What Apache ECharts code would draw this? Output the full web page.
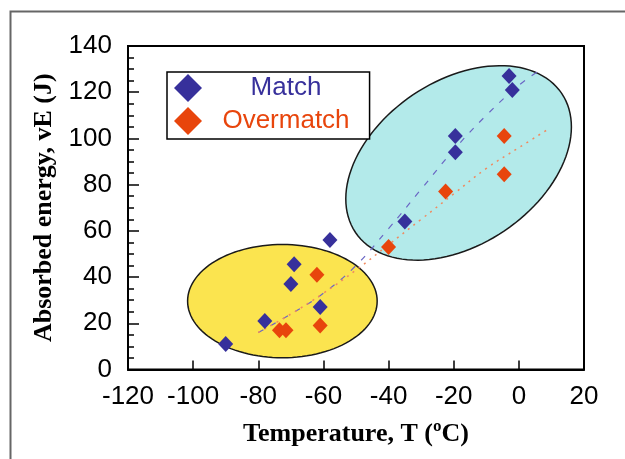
<!DOCTYPE html>
<html>
<head>
<meta charset="utf-8">
<script src="https://cdn.jsdelivr.net/npm/echarts@6/dist/echarts.min.js"></script>
<style>
  html, body { margin: 0; padding: 0; background: #fff; }
  #chart { width: 625px; height: 459px; }
</style>
</head>
<body>
<div id="chart"></div>
<script>
// measured points
const matchT = [-90, -78, -70, -69, -61, -58, -35, -19.5, -19.5, -3, -2]
const matchE = [11, 21, 37, 45.5, 27, 56, 64, 101, 94, 127, 121]
const overT = [-73.5, -71.5, -62, -61, -40, -22.5, -4.5, -4.5]
const overE = [17, 17, 41, 19, 53, 77, 101, 84.5]

// trend lines
const matchTrendT = [-80, -70, -60, -50, -40, -30, -20, -10, 0, 7]
const matchTrendE = [16, 24, 33, 45, 61, 78, 95, 110, 123, 130]
const overTrendT = [-80, -70, -60, -50, -40, -30, -20, -10, 0, 9]
const overTrendE = [16, 24, 33, 43, 54, 65, 76, 87, 96, 104]

// highlighted zones: centre + two conjugate half-axes (data units)
const zoneCenterT = [-72.6, -18.5]
const zoneCenterE = [29.6, 89.4]
const zoneAxisU = [[29.1, 0], [31.65, 30.1]]
const zoneAxisV = [[0, 24.5], [-14.06, 29.4]]

const xTicks = { min: -120, max: 20, step: 20 }
const yTicks = { min: 0, max: 140, step: 20 }

const blue = '#37309b'
const orange = '#e8450c'
const zoneColors = ['#fbe44f', '#b3eaea']
const sans = 'Liberation Sans, Arial, sans-serif'
const serif = 'Liberation Serif, Times New Roman, serif'

const zip = (a, b) => a.map((v, i) => [v, b[i]])
const zones = zoneCenterT.map((t, i) => [
  t, zoneCenterE[i],
  zoneAxisU[i][0], zoneAxisU[i][1],
  zoneAxisV[i][0], zoneAxisV[i][1]
])

const renderZone = (params, api) => {
  const cx = api.value(0), cy = api.value(1)
  const c = api.coord([cx, cy])
  const a = api.coord([cx + api.value(2), cy + api.value(3)])
  const b = api.coord([cx + api.value(4), cy + api.value(5)])
  const ux = a[0] - c[0], uy = a[1] - c[1]
  const vx = b[0] - c[0], vy = b[1] - c[1]
  const pts = []
  for (let i = 0; i < 120; i++) {
    const t = (i / 120) * Math.PI * 2
    pts.push([
      c[0] + Math.cos(t) * ux + Math.sin(t) * vx,
      c[1] + Math.cos(t) * uy + Math.sin(t) * vy
    ])
  }
  return {
    type: 'polygon',
    shape: { points: pts },
    style: { fill: zoneColors[params.dataIndex], stroke: '#1a1a1a', lineWidth: 1.5 }
  }
}

const chart = echarts.init(document.getElementById('chart'), null, { renderer: 'canvas' })
chart.setOption({
  animation: false,
  backgroundColor: '#fff',
  graphic: [
    {
      type: 'rect',
      left: 8, top: 9,
      shape: { width: 700, height: 500 },
      style: { fill: 'none', stroke: '#666', lineWidth: 2 },
      silent: true
    }
  ],
  grid: {
    left: 128, right: 41, top: 46, bottom: 89.5,
    show: true,
    borderColor: '#000',
    borderWidth: 2,
    backgroundColor: 'transparent'
  },
  legend: {
    data: ['Match', 'Overmatch'],
    orient: 'vertical',
    left: 167,
    top: 72,
    itemWidth: 28,
    itemHeight: 28,
    itemGap: 5,
    padding: [2, 20, 4, 7],
    icon: 'diamond',
    borderColor: '#000',
    borderWidth: 1.5,
    borderRadius: 0,
    backgroundColor: '#fff',
    formatter: (name) => (name === 'Match' ? '{m|Match}' : '{o|Overmatch}'),
    textStyle: {
      rich: {
        m: { width: 158, align: 'center', fontSize: 26, fontFamily: sans, color: blue },
        o: { width: 158, align: 'center', fontSize: 26, fontFamily: sans, color: orange }
      }
    }
  },
  xAxis: {
    type: 'value',
    min: xTicks.min,
    max: xTicks.max,
    interval: xTicks.step,
    name: 'Temperature, T (ºC)',
    nameLocation: 'middle',
    nameGap: 52,
    nameTextStyle: { fontFamily: serif, fontWeight: 'bold', fontSize: 26, color: '#000' },
    axisLine: { onZero: false, lineStyle: { color: '#000', width: 2 } },
    axisTick: { inside: true, length: 9, lineStyle: { color: '#000', width: 1.5 } },
    axisLabel: { margin: 14, fontFamily: sans, fontSize: 26, color: '#000' },
    splitLine: { show: false }
  },
  yAxis: {
    type: 'value',
    min: yTicks.min,
    max: yTicks.max,
    interval: yTicks.step,
    name: 'Absorbed energy, vE (J)',
    nameLocation: 'middle',
    nameGap: 71,
    nameTextStyle: { fontFamily: serif, fontWeight: 'bold', fontSize: 26, color: '#000' },
    axisLine: { onZero: false, lineStyle: { color: '#000', width: 2 } },
    axisTick: { inside: true, length: 11, lineStyle: { color: '#000', width: 1.5 } },
    minorTick: { show: true, splitNumber: 4, length: 6, lineStyle: { color: '#000', width: 1.5 } },
    axisLabel: { margin: 16, fontFamily: sans, fontSize: 26, color: '#000' },
    splitLine: { show: false }
  },
  series: [
    {
      name: 'zones',
      type: 'custom',
      renderItem: renderZone,
      data: zones,
      encode: { x: 0, y: 1 },
      clip: false,
      silent: true,
      z: 1
    },
    {
      name: 'Match trend',
      type: 'line',
      data: zip(matchTrendT, matchTrendE),
      smooth: 0.4,
      showSymbol: false,
      lineStyle: { color: '#6a66c4', width: 1.2, type: [6, 8] },
      z: 2
    },
    {
      name: 'Overmatch trend',
      type: 'line',
      data: zip(overTrendT, overTrendE),
      smooth: 0.4,
      showSymbol: false,
      lineStyle: { color: '#f08a60', width: 1.5, type: [2, 5] },
      z: 2
    },
    {
      name: 'Match',
      type: 'scatter',
      symbol: 'diamond',
      symbolSize: [15, 16],
      data: zip(matchT, matchE),
      itemStyle: { color: blue, opacity: 1 },
      z: 3
    },
    {
      name: 'Overmatch',
      type: 'scatter',
      symbol: 'diamond',
      symbolSize: [15, 16],
      data: zip(overT, overE),
      itemStyle: { color: orange, opacity: 1 },
      z: 3
    }
  ]
})
</script>
</body>
</html>
